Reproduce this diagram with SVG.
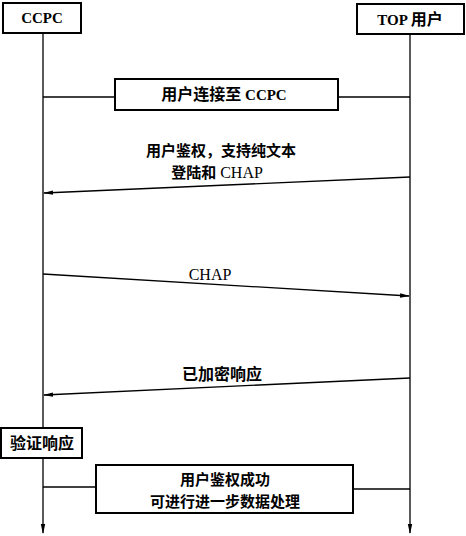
<svg xmlns="http://www.w3.org/2000/svg" width="466" height="536" viewBox="0 0 466 536">
<defs>
<marker id="ah" markerWidth="10" markerHeight="6" refX="9" refY="3" orient="auto" markerUnits="userSpaceOnUse">
<path d="M0,0.8 L10,3 L0,5.2 Z" fill="#000"/>
</marker>
<style>
.box{fill:#fff;stroke:#000;stroke-width:2}
.ln{fill:none;stroke:#000;stroke-width:1.3}
.t{font-family:"Noto Sans CJK SC","Liberation Serif",serif;font-size:16px;fill:#000;text-anchor:middle;font-weight:bold}
.s{font-size:15px}
.l{font-family:"Liberation Serif",serif;font-size:15px}
.n{font-weight:normal;font-size:16px}
</style>
</defs>
<g id="connectors">
<line class="ln" x1="43" y1="33" x2="43" y2="533" marker-end="url(#ah)"/>
<line class="ln" x1="410" y1="34" x2="410" y2="533" marker-end="url(#ah)"/>
<line class="ln" x1="43" y1="97" x2="115" y2="97"/>
<line class="ln" x1="338" y1="97" x2="410" y2="97"/>
<line class="ln" x1="410" y1="177" x2="44" y2="193" marker-end="url(#ah)"/>
<line class="ln" x1="43" y1="274" x2="409" y2="296" marker-end="url(#ah)"/>
<line class="ln" x1="410" y1="378" x2="44" y2="395" marker-end="url(#ah)"/>
<line class="ln" x1="43" y1="487" x2="96" y2="487"/>
<line class="ln" x1="353" y1="489" x2="410" y2="489"/>
</g>
<g id="ccpc">
<rect class="box" x="3" y="3" width="78" height="30"/>
<text class="t l" x="42" y="23">CCPC</text>
</g>
<g id="top">
<rect class="box" x="357" y="4" width="107" height="30"/>
<text class="t" x="410" y="25"><tspan class="l">TOP </tspan>用户</text>
</g>
<g id="connect">
<rect class="box" x="115" y="79" width="223" height="31"/>
<text class="t" x="224" y="100">用户连接至<tspan class="l"> CCPC</tspan></text>
</g>
<g id="auth">
<text class="t s" x="221" y="156">用户鉴权，支持纯文本</text>
<text class="t s" x="217" y="178">登陆和<tspan class="l n"> CHAP</tspan></text>
</g>
<g id="chap">
<text class="t l n" x="210" y="280">CHAP</text>
</g>
<g id="resp">
<text class="t" x="222" y="380">已加密响应</text>
</g>
<g id="verify">
<rect class="box" x="1" y="428" width="81" height="30"/>
<text class="t" x="42" y="449">验证响应</text>
</g>
<g id="success">
<rect class="box" x="96" y="465" width="257" height="48"/>
<text class="t s" x="225" y="485">用户鉴权成功</text>
<text class="t s" x="225" y="507">可进行进一步数据处理</text>
</g>
</svg>
